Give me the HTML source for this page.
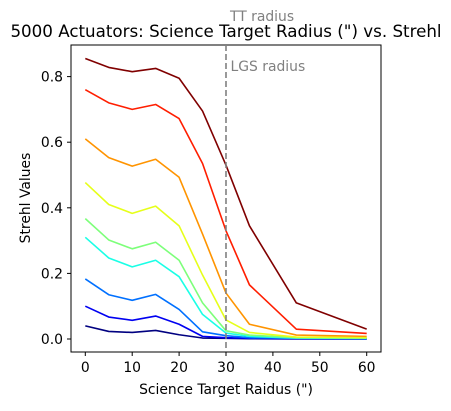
<!DOCTYPE html>
<html><head><meta charset="utf-8"><style>
body{margin:0;background:#fff;}
text{font-family:"DejaVu Sans","Liberation Sans",sans-serif;}
</style></head><body>
<svg id="chart" width="451" height="406" xmlns="http://www.w3.org/2000/svg">
<text x="226" y="37" font-size="16.7" text-anchor="middle">5000 Actuators: Science Target Radius (") vs. Strehl</text>
<text x="230" y="21" font-size="13.9" fill="#808080">TT radius</text>
<rect x="71" y="45" width="310" height="307" fill="none" stroke="#000" stroke-width="1"/>
<g id="axes"></g>
<g id="marks"></g>
<text x="230.5" y="71" font-size="13.9" fill="#808080">LGS radius</text>
<text x="226" y="394" font-size="13.9" text-anchor="middle">Science Target Raidus (")</text>
<text x="30" y="198" font-size="13.9" text-anchor="middle" transform="rotate(-90 30 198)">Strehl Values</text>
</svg>
<script>
const radii=[0,5,10,15,20,25,30,35,45,60];
const xTicks=[0,10,20,30,40,50,60];
const yTicks=[0.0,0.2,0.4,0.6,0.8];
const s1=[0.04,0.023,0.02,0.026,0.013,0.003,0.002,0.001,0,0];
const s2=[0.1,0.067,0.057,0.07,0.045,0.008,0.004,0.002,0.001,0];
const s3=[0.183,0.135,0.118,0.136,0.09,0.022,0.01,0.004,0.002,0.001];
const s4=[0.31,0.247,0.22,0.24,0.19,0.075,0.018,0.008,0.003,0.002];
const s5=[0.367,0.302,0.275,0.295,0.24,0.11,0.025,0.012,0.004,0.003];
const s6=[0.477,0.41,0.383,0.405,0.345,0.195,0.058,0.02,0.006,0.004];
const s7=[0.61,0.553,0.527,0.548,0.493,0.32,0.14,0.045,0.012,0.008];
const s8=[0.76,0.72,0.70,0.715,0.672,0.535,0.33,0.165,0.03,0.017];
const s9=[0.855,0.828,0.815,0.825,0.795,0.695,0.53,0.345,0.11,0.03];
const series=[s1,s2,s3,s4,s5,s6,s7,s8,s9];
const colors=["#000080","#0000f1","#0070ff","#1affe6","#7dff7a","#e6ff1a","#ff9400","#ff1e00","#800000"];
const lgsRadius=30;
const X=v=>85.3+v*4.69;
const Y=v=>339-v*328;
const NS="http://www.w3.org/2000/svg";
const axes=document.getElementById('axes'),marks=document.getElementById('marks');
function mk(t,a,p){const e=document.createElementNS(NS,t);for(const k in a)e.setAttribute(k,a[k]);p.appendChild(e);return e;}
xTicks.forEach(t=>{
 const l=mk('line',{x1:X(t),x2:X(t),y1:352,y2:356,stroke:'#000'},axes);
 
 
 const tx=mk('text',{x:X(t),y:372,'font-size':13.9,'text-anchor':'middle'},axes);tx.textContent=t;
 
 
});
yTicks.forEach(t=>{
 const l=mk('line',{x1:67,x2:71,y1:Y(t),y2:Y(t),stroke:'#000'},axes);
 
 
 const tx=mk('text',{x:63,y:Y(t)+5,'font-size':13.9,'text-anchor':'end'},axes);tx.textContent=t.toFixed(1);
 
 
});
series.forEach((s,i)=>{
 const p=mk('polyline',{points:s.map((v,j)=>X(radii[j])+','+Y(v)).join(' '),fill:'none',stroke:colors[i],'stroke-width':1.6,'stroke-linejoin':'round'},marks);
 
 
});
const v=mk('line',{x1:X(lgsRadius),x2:X(lgsRadius),y1:45,y2:352,stroke:'#808080','stroke-width':1.6,'stroke-dasharray':'6,3'},marks);


</script>
</body></html>
